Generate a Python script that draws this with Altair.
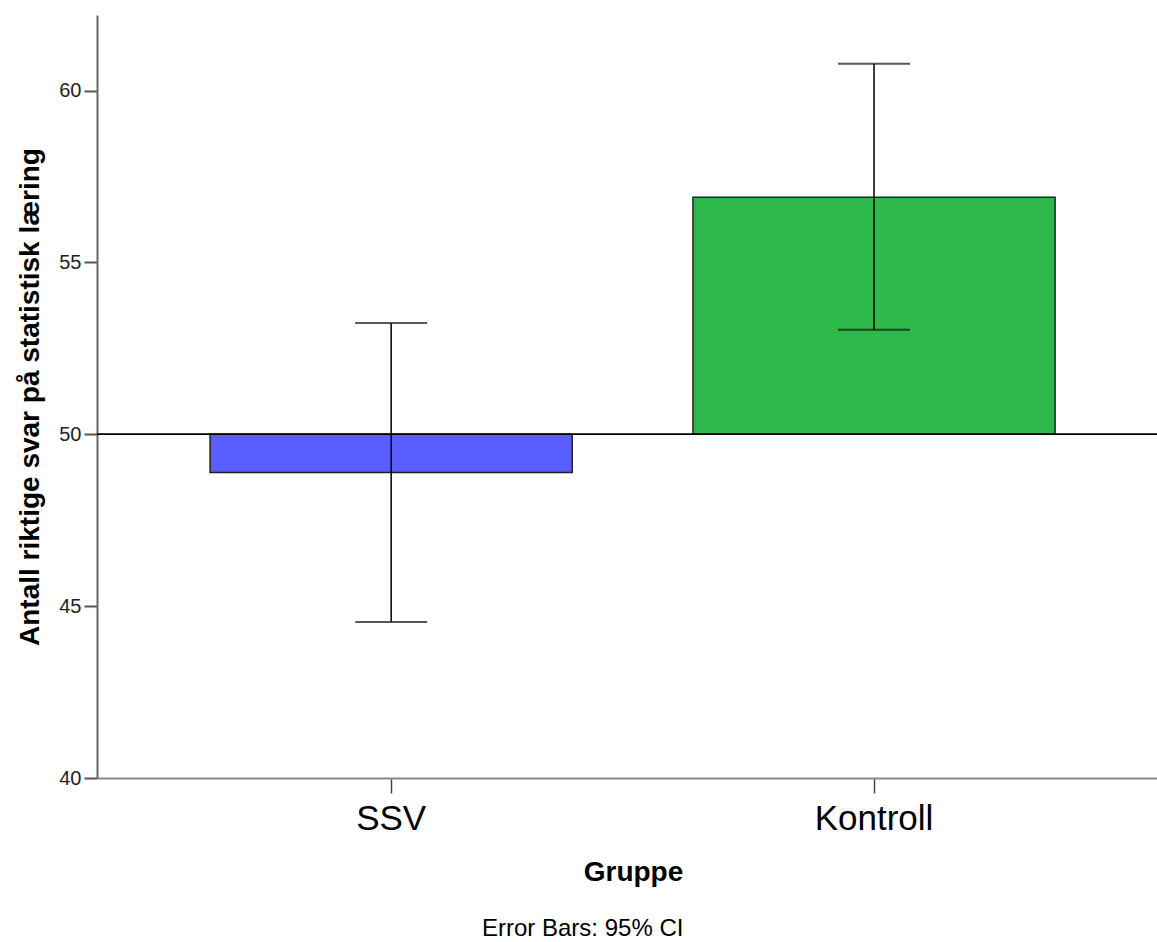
import altair as alt
import pandas as pd

groups = ["SSV", "Kontroll"]
means = [48.89, 56.90]
ci_low = [44.54, 53.04]
ci_high = [53.24, 60.78]
colors = ["#5b5eff", "#2fb84a"]
y_ticks = [40, 45, 50, 55, 60]
baseline = 50

df = pd.DataFrame({"Gruppe": groups, "mean": means, "lo": ci_low, "hi": ci_high,
                   "base": [baseline] * len(groups)})

FONT = "Liberation Sans"

x_scale = alt.Scale(domain=groups, paddingInner=0.25, paddingOuter=0.2226, align=0.526)
y_scale = alt.Scale(domain=[40, 62.2], nice=False, zero=False)

x_axis = alt.Axis(title="Gruppe", labelFont=FONT, labelFontSize=35,
                  labelColor="#000", labelPadding=8, tickSize=15, tickColor="#444",
                  tickWidth=1.5, domainColor="#888", domainWidth=2, labelAngle=0,
                  titleFont=FONT, titleFontSize=28, titleFontWeight="bold",
                  titleColor="#000", titleX=536, titleY=102, titleBaseline="alphabetic",
                  titleAlign="center", grid=False)
y_axis = alt.Axis(title="Antall riktige svar på statistisk læring", values=y_ticks,
                  labelFont=FONT, labelFontSize=20, labelColor="#222",
                  labelPadding=3, tickSize=13, tickColor="#555", tickWidth=2,
                  domainColor="#666", domainWidth=2, titleFont=FONT,
                  titleFontSize=28, titleFontWeight="bold", titleColor="#000",
                  titlePadding=14, grid=False)

base = alt.Chart(df)

bars = base.mark_bar(stroke="#222", strokeWidth=1.5).encode(
    x=alt.X("Gruppe:N", scale=x_scale, axis=x_axis, sort=groups),
    y=alt.Y("mean:Q", scale=y_scale, axis=y_axis),
    y2="base:Q",
    color=alt.Color("Gruppe:N", scale=alt.Scale(domain=groups, range=colors), legend=None),
)

ref = base.mark_rule(color="#000", strokeWidth=1.5).encode(
    y=alt.datum(baseline),
    x=alt.value(0),
    x2=alt.value(1060),
)

err = base.mark_rule(color="#000", strokeWidth=1.5).encode(
    x=alt.X("Gruppe:N", sort=groups),
    y="lo:Q",
    y2="hi:Q",
)

caps_lo = base.mark_tick(color="#111", thickness=2, size=72, orient="horizontal").encode(
    x=alt.X("Gruppe:N", sort=groups), y="lo:Q")
caps_hi = base.mark_tick(color="#111", thickness=2, size=72, orient="horizontal").encode(
    x=alt.X("Gruppe:N", sort=groups), y="hi:Q")

chart = alt.layer(bars, ref, err, caps_lo, caps_hi).properties(
    width=1060, height=763,
    background="white",
    autosize=alt.AutoSizeParams(type="none"),
    padding={"left": 97, "top": 15, "right": 0, "bottom": 164},
    title=alt.TitleParams(text="Error Bars: 95% CI", orient="bottom", anchor="start",
                          frame="group", dx=385, offset=31, font=FONT,
                          fontSize=24, fontWeight="normal", color="#000"),
).configure_view(strokeWidth=0, stroke="transparent")

chart.save("out.html", embed_options={"renderer": "svg", "actions": False})
